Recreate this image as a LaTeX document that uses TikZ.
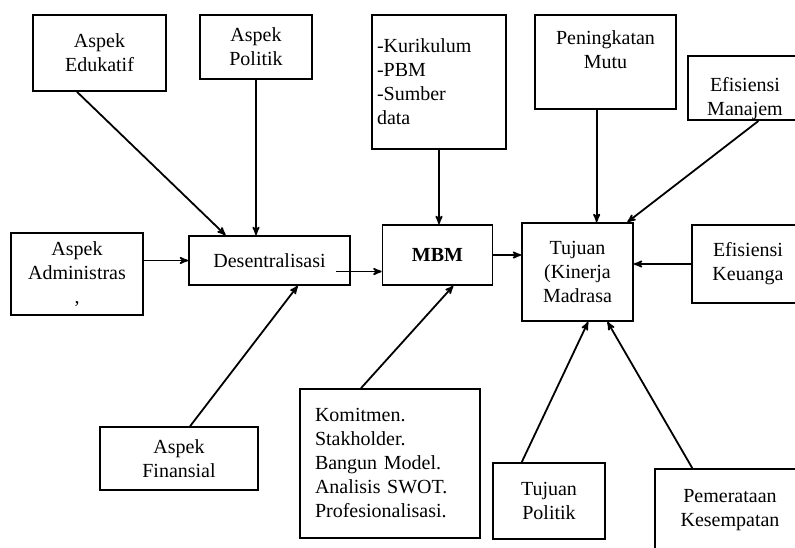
\documentclass[tikz,border=0pt]{standalone}
\usepackage{fontspec}
\setmainfont{Liberation Serif}
\usepackage{tikz}
\usetikzlibrary{arrows}

\begin{document}
\begin{tikzpicture}[>=stealth',line width=1.8pt,x=1pt,y=-1pt]
\tikzstyle{box}=[draw=black,rectangle,inner sep=0pt,align=center]
\tikzset{font=\fontsize{20pt}{24pt}\selectfont}

        \useasboundingbox (0,0) rectangle (795,547);
        \clip (0,0) rectangle (795,547);

        % left side
        \node[box,minimum width=133pt,minimum height=76pt]     (edu)   at (99.5,53)    {Aspek\\Edukatif};
        \node[box,minimum width=112pt,minimum height=64pt]     (pol)   at (256,47)     {Aspek\\Politik};
        \node[box,minimum width=132pt,minimum height=82pt]     (adm)   at (77,274)     {Aspek\\Administras\\,};
        \node[box,minimum width=161pt,minimum height=49pt]     (desen) at (269.5,260.5) {Desentralisasi};
        \node[box,minimum width=158pt,minimum height=63pt]     (fin)   at (179,458.5)  {Aspek\\Finansial};

        % middle
        \node[box,minimum width=134pt,minimum height=134pt,text width=124pt,align=left] (kur) at (439,82) {-Kurikulum\\-PBM\\-Sumber\\data};
        \node[box,minimum width=110pt,minimum height=60pt]     (mbm)   at (437.5,255)  {\textbf{MBM}};
        \node[box,minimum width=180pt,minimum height=149pt,text width=150pt,align=left] (kom) at (390,463.5) {Komitmen.\\Stakholder.\\Bangun Model.\\Analisis SWOT.\\Profesionalisasi.};

        % right side
        \node[box,minimum width=141pt,minimum height=94pt]     (mutu)  at (605.5,62)   {\parbox[c][62pt][t]{135pt}{\centering Peningkatan\\Mutu}};
        \node[box,minimum width=114pt,minimum height=60pt]     (man)   at (745,88)     {\parbox[c][60pt][b]{110pt}{\centering Efisiensi\\Manajem}};
        \node[box,minimum width=111pt,minimum height=98pt]     (tuj)   at (577.5,272)  {Tujuan\\(Kinerja\\Madrasa};
        \node[box,minimum width=112pt,minimum height=78pt]     (keu)   at (748,264)    {Efisiensi\\Keuanga};
        \node[box,minimum width=112pt,minimum height=76pt]     (tpol)  at (549,501)    {Tujuan\\Politik};
        \node[box,minimum width=150pt,minimum height=82pt]     (pem)   at (730,510)    {Pemerataan\\Kesempatan};

        \path[->]
        (edu.-120)                        edge (desen.150)
        (pol.south)                       edge (pol.south |- desen.north)
        (adm.east |- desen.west)          edge (desen.west)
        (fin.71)                          edge (desen.-42)
        ([xshift=-15pt,yshift=-11pt]desen.east) edge ([yshift=-11pt]desen.east -| mbm.west)
        (kur.south)                       edge (kur.south |- mbm.north)
        (kom.111)                         edge (mbm.-63)
        (mbm.east)                        edge (mbm.east -| tuj.west)
        (tuj.69 |- mutu.south)            edge (tuj.69)
        (man.-68)                         edge (tuj.45)
        (keu.west)                        edge (keu.west -| tuj.east)
        (tpol.125)                        edge (tuj.-78)
        (pem.132)                         edge (tuj.-59)
        ; %end path

\end{tikzpicture}
\end{document}
